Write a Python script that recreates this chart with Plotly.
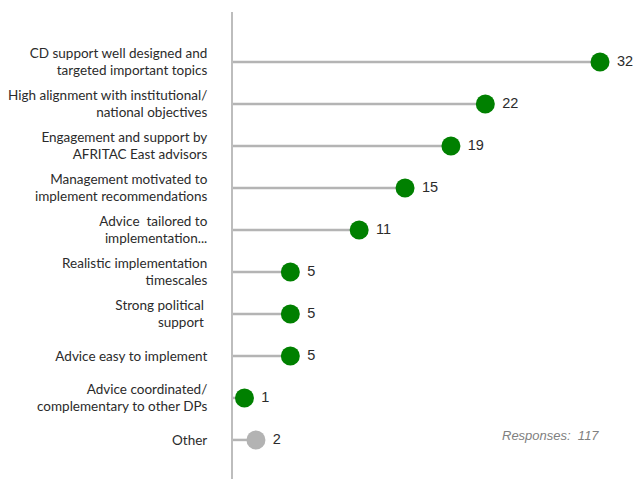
import plotly.graph_objects as go

categories = [
    "CD support well designed and<br>targeted important topics",
    "High alignment with institutional/<br>national objectives",
    "Engagement and support by<br>AFRITAC East advisors",
    "Management motivated to<br>implement recommendations",
    "Advice  tailored to<br>implementation...",
    "Realistic implementation<br>timescales",
    "Strong political <br>support ",
    "Advice easy to implement",
    "Advice coordinated/<br>complementary to other DPs",
    "Other",
]
values = [32, 22, 19, 15, 11, 5, 5, 5, 1, 2]
dot_colors = ["#008000"] * 9 + ["#b3b3b3"]
responses_note = "Responses:  117"

idx = list(range(len(categories)))

stem_x, stem_y = [], []
for i, v in zip(idx, values):
    stem_x += [0, v, None]
    stem_y += [i, i, None]

fig = go.Figure()
fig.add_trace(go.Scatter(
    x=stem_x, y=stem_y, mode="lines",
    line=dict(color="#b4b4b4", width=2.5),
    hoverinfo="skip", showlegend=False,
))
fig.add_trace(go.Scatter(
    x=values, y=idx, mode="markers+text",
    marker=dict(size=19, color=dot_colors),
    text=["\u00a0" + str(v) for v in values], textposition="middle right",
    textfont=dict(family="Liberation Sans, Arial", size=14.5, color="#2b2b2b"),
    showlegend=False,
))
fig.add_annotation(
    x=32.1, y=8.9, xref="x", yref="y", xanchor="right", yanchor="middle",
    text="<i>" + responses_note + "</i>", showarrow=False,
    font=dict(family="Liberation Sans, Arial", size=13, color="#808080"),
)
fig.update_layout(
    width=635, height=479,
    margin=dict(l=233, r=0, t=12, b=0),
    plot_bgcolor="white", paper_bgcolor="white",
    xaxis=dict(range=[0, 35.05], visible=False, showgrid=False, zeroline=False),
    yaxis=dict(
        range=[9.93, -1.19], tickmode="array", tickvals=idx, ticktext=categories,
        showgrid=False, zeroline=False, showline=True, linecolor="#bdbdbd", linewidth=2,
        ticks="", ticklabelstandoff=21,
        tickfont=dict(family="Lato, Open Sans", size=13.5, color="#2b2b2b"),
    ),
)
fig.write_html("out.html")
